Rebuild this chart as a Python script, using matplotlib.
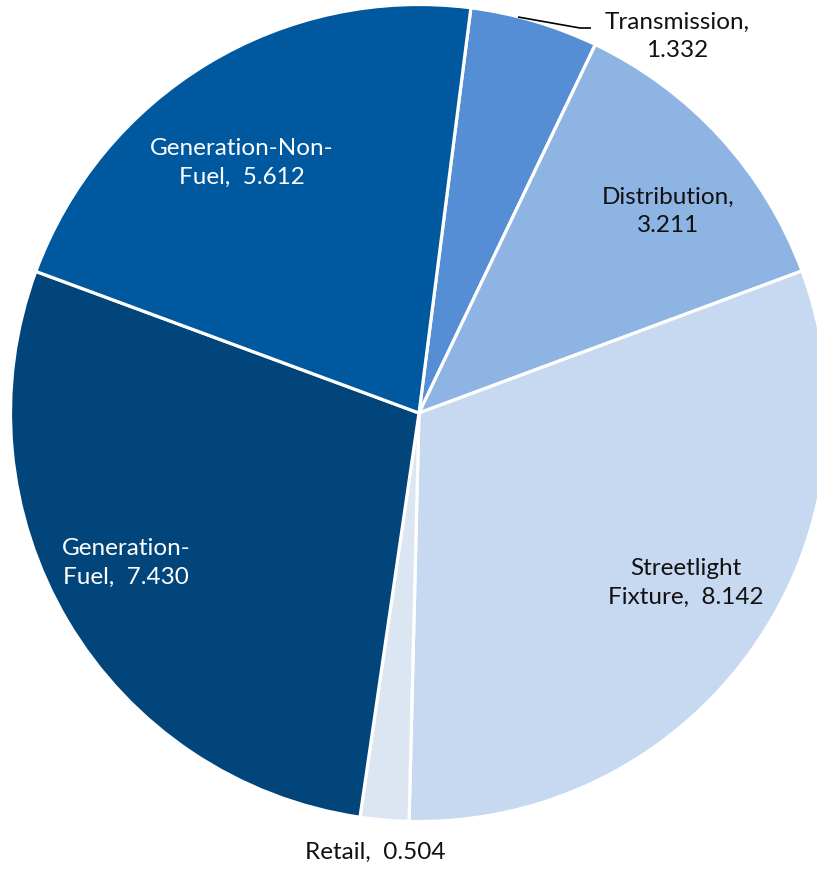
import matplotlib.pyplot as plt

# slices, clockwise from the top
categories = ["Transmission", "Distribution", "Streetlight Fixture", "Retail",
              "Generation-Fuel", "Generation-Non-Fuel"]
values = [1.332, 3.211, 8.142, 0.504, 7.430, 5.612]
label_fmt = ["Transmission,\n{}", "Distribution,\n{}", "Streetlight\nFixture,  {}",
             "Retail,  {}", "Generation-\nFuel,  {}", "Generation-Non-\nFuel,  {}"]
colors = ["#558ED5", "#8EB4E3", "#C6D9F0", "#DCE6F2", "#02457B", "#00589F"]
text_colors = ["#111111", "#111111", "#111111", "#111111", "white", "white"]

# label centres in pixels (x, y from top)
label_pos = [(677, 36), (668, 211), (686, 583), (375, 852), (126, 563), (242, 163)]

W, H = 817, 871
fig = plt.figure(figsize=(W / 100, H / 100), dpi=100)
ax = fig.add_axes([0, 0, 1, 1])

cx, cy, r = 419, 413, 408.5
ax.pie(values, colors=colors, startangle=82.7, counterclock=False,
       center=(cx, H - cy), radius=r,
       wedgeprops=dict(edgecolor="white", linewidth=2.3))

ax.set_xlim(0, W)
ax.set_ylim(0, H)
ax.set_aspect("equal")
ax.axis("off")

for fmt, v, (x, y), tc in zip(label_fmt, values, label_pos, text_colors):
    ax.text(x, H - y, fmt.format(f"{v:.3f}"), ha="center", va="center",
            fontsize=17.5, color=tc, family="Lato", linespacing=1.42)

# leader line for the small Transmission slice
ax.plot([518, 580, 591], [H - 17, H - 28, H - 28], color="black", lw=1.2,
        solid_capstyle="butt")

fig.savefig("out.png", dpi=100)
